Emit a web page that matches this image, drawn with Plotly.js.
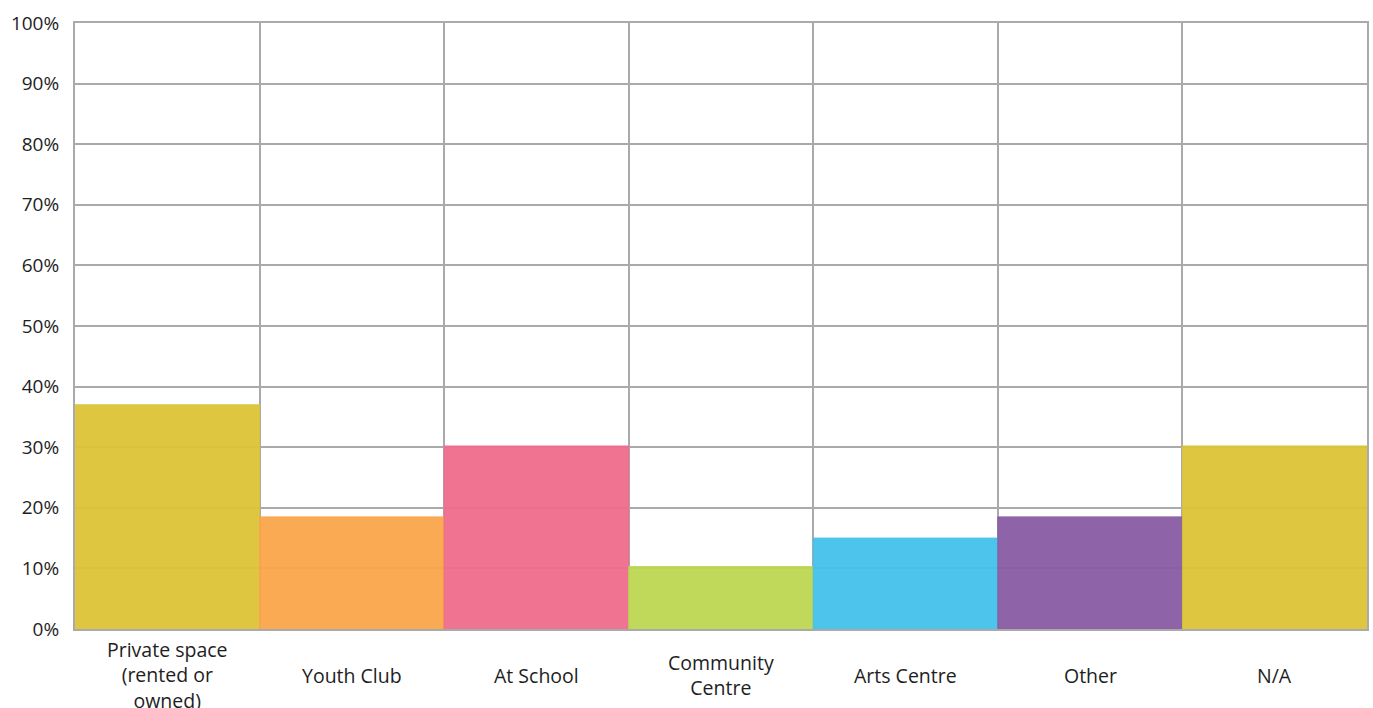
<!DOCTYPE html>
<html>
<head>
<meta charset="utf-8">
<script src="https://cdn.plot.ly/plotly-3.0.1.min.js"></script>
<style>html,body{margin:0;padding:0;background:#fff;}#chart{width:1373px;height:708px;}</style>
</head>
<body>
<div id="chart"></div>
<script>
var categories = ["Private space<br>(rented or<br>owned)", "Youth Club", "At School", "Community<br>Centre", "Arts Centre", "Other", "N/A"];
var values = [37.0, 18.5, 30.2, 10.3, 15.0, 18.5, 30.2];
var colors = ["#DDC436", "#F9A64A", "#F06D8C", "#BDD753", "#43C1EC", "#895BA3", "#DDC436"];
var yTickVals = [0, 10, 20, 30, 40, 50, 60, 70, 80, 90, 100];

var xs = categories.map(function (c, i) { return i; });
var bounds = [];
for (var i = 0; i < categories.length - 1; i++) bounds.push(i + 0.5);

var font = "'Open Sans', sans-serif";

var trace = {
  type: "bar",
  x: xs,
  y: values,
  width: 1,
  marker: { color: colors, opacity: 0.95, line: { color: colors, width: 1 } },
  hoverinfo: "skip"
};

var annotations = categories.map(function (c, i) {
  return {
    x: i, xref: "x", y: 0, yref: "y", yshift: -46,
    text: c, showarrow: false, xanchor: "center", yanchor: "middle",
    font: { family: font, size: 19.5, color: "#1e1e1e" }
  };
});

var layout = {
  width: 1373, height: 708,
  margin: { l: 75, r: 6, t: 23, b: 79 },
  paper_bgcolor: "#fff", plot_bgcolor: "#fff",
  showlegend: false,
  bargap: 0,
  xaxis: {
    range: [-0.5, categories.length - 0.5],
    tickvals: xs, ticktext: xs.map(function () { return ""; }),
    showgrid: false, zeroline: false,
    showline: true, mirror: true, linecolor: "#aaa", linewidth: 2,
    ticks: "",
    minor: { tickvals: bounds, showgrid: true, gridcolor: "#aaa", gridwidth: 2, ticks: "" },
    fixedrange: true
  },
  yaxis: {
    range: [0, 100],
    tickvals: yTickVals,
    ticktext: yTickVals.map(function (v) { return v + "%"; }),
    showgrid: true, gridcolor: "#aaa", gridwidth: 2,
    zeroline: false,
    showline: true, mirror: true, linecolor: "#aaa", linewidth: 2,
    ticks: "", ticklabelstandoff: 10,
    tickfont: { family: font, size: 19, color: "#1e1e1e" },
    fixedrange: true
  },
  annotations: annotations
};

Plotly.newPlot("chart", [trace], layout, { displayModeBar: false, staticPlot: true });
</script>
</body>
</html>
